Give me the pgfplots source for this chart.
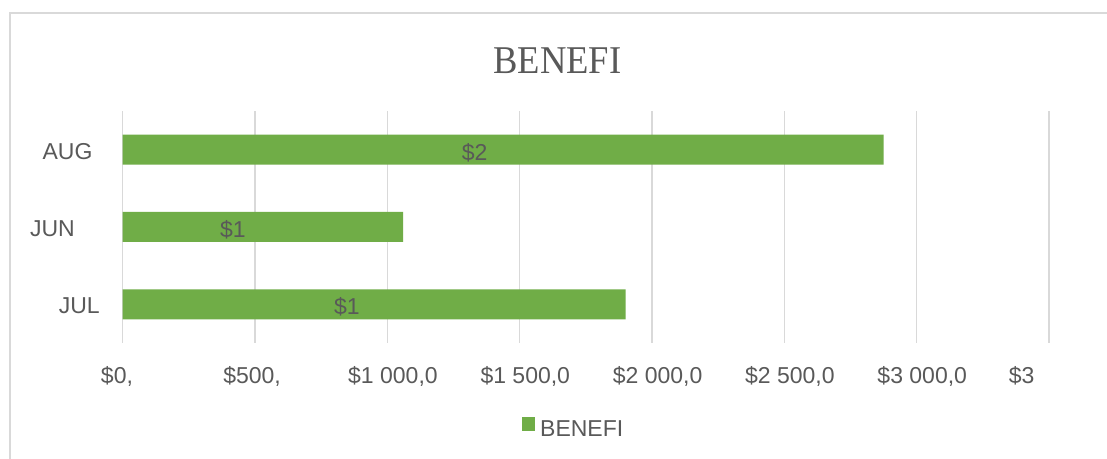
\documentclass[border=0pt]{standalone}
\usepackage{pgfplots}
\pgfplotsset{compat=1.18}
\usepackage{fontspec}
\setmainfont{Liberation Sans}
\newfontfamily\titlefont[FakeStretch=0.93]{Liberation Serif}
\definecolor{barcol}{HTML}{70AD47}
\definecolor{txt}{HTML}{595959}
\definecolor{gridcol}{HTML}{D9D9D9}
\begin{document}
\begin{tikzpicture}
\useasboundingbox (0,0) rectangle (830.25pt,344.25pt);
\fill[white] (0,0) rectangle (830.25pt,344.25pt);
\draw[gridcol, line width=1.2pt] (7.5pt,-10pt) -- (7.5pt,334.7pt) -- (840pt,334.7pt);
\node[anchor=base, text=txt, font={\titlefont\fontsize{29.5}{31}\selectfont}] at (418.1pt,288.75pt) {BENEFI};
\begin{axis}[
  at={(92.03pt,87pt)}, anchor=south west,
  scale only axis, width=694.7pt, height=174pt,
  xbar, bar width=22.5pt,
  xmin=0, xmax=3500, ymin=-0.5, ymax=2.5,
  xtick={0,500,1000,1500,2000,2500,3000,3500},
  xticklabels={{\$0,\hspace*{17pt}}, {\$500,\hspace*{12.9pt}}, {\$1 000,0}, {\$1 500,0}, {\$2 000,0}, {\$2 500,0}, {\$3 000,0}, {\$3\hspace*{49.4pt}}},
  ytick={0,1,2},
  yticklabels={JUL, {JUN\hspace*{18.75pt}}, {AUG\hspace*{5.5pt}}},
  major tick length=0pt,
  axis line style={draw=none},
  xmajorgrids, grid style={draw=gridcol, line width=1.1pt},
  ymajorgrids=false,
  ticklabel style={text=txt, font=\fontsize{17.25}{20}\selectfont, inner sep=0pt},
  xticklabel style={anchor=base, yshift=-30.2pt, xshift=4.2pt},
  yticklabel style={anchor=base east, xshift=-17pt, yshift=-7.2pt},
  legend style={at={(axis description cs:0.431,-0.366)}, anchor=west, draw=none, fill=none, inner sep=0pt, column sep=3.75pt, nodes={inner sep=0pt, text=txt, font=\fontsize{17.25}{20}\selectfont}},
  legend image code/.code={\fill[barcol] (0pt,-1pt) rectangle (9.75pt,9.5pt);},
]
\addplot[fill=barcol, draw=none] coordinates {(1900,0) (1060,1) (2875,2)};
\addlegendentry{BENEFI}
\addplot[draw=none, mark=none, nodes near coords, point meta=explicit symbolic,
  every node near coord/.style={anchor=center, yshift=-2pt, text=txt, font=\fontsize{17.25}{20}\selectfont, inner sep=0pt}, forget plot]
  coordinates {(847,0) [\$1] (416,1) [\$1] (1330,2) [\$2]};
\end{axis}
\end{tikzpicture}
\end{document}
